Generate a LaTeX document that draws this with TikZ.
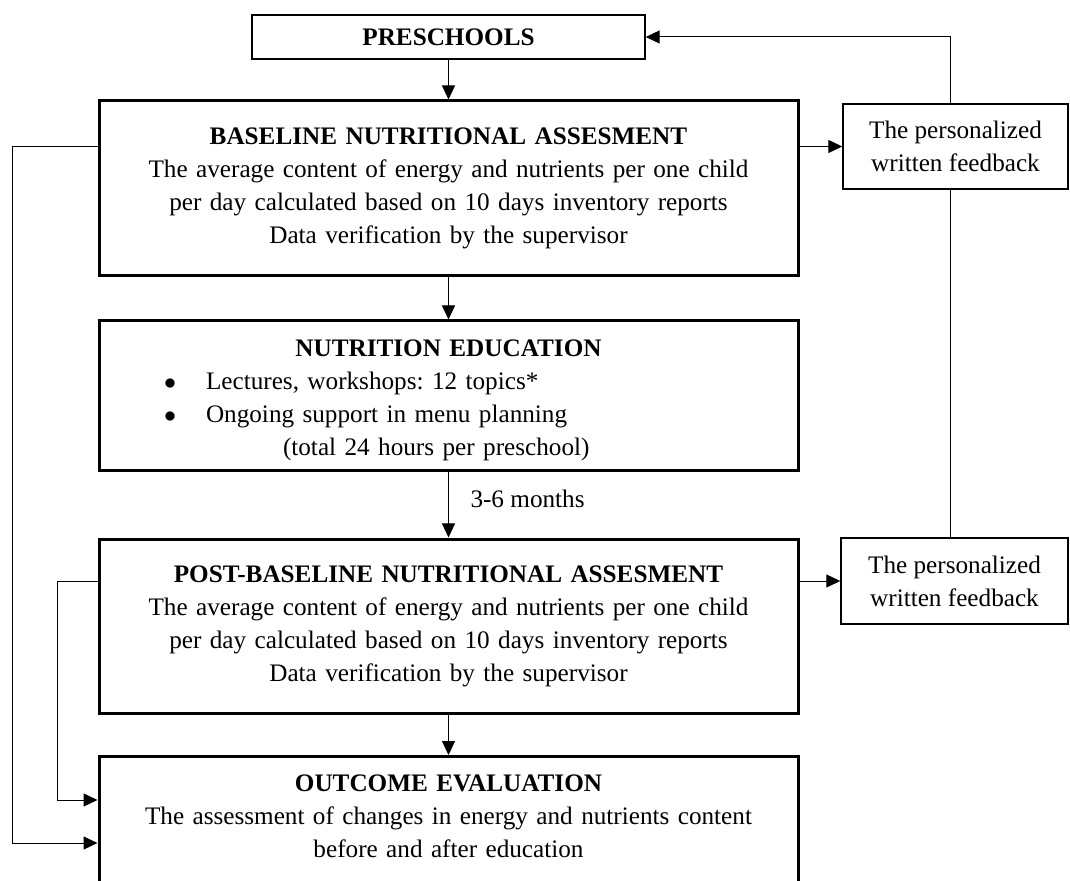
\documentclass[tikz,border=0pt]{standalone}
\usepackage{fontspec}
\setmainfont{Liberation Serif}
\usetikzlibrary{arrows.meta,positioning}
\frenchspacing

\begin{document}
\begin{tikzpicture}[x=0.5pt, y=-0.5pt, >={Triangle[length=7pt,width=6.5pt]},
  font=\fontsize{12.6}{16.5}\selectfont,
  thin box/.style={draw, line width=0.7pt, inner sep=0pt, align=center},
  thick box/.style={draw, line width=1.5pt, inner sep=0pt, align=center, minimum width=349.5pt},
  link/.style={line width=0.5pt}]
  % The page
  \useasboundingbox (0,0) rectangle (1070,881);
  \clip (0,0) rectangle (1070,881);

  % Preschools
  \node [thin box, minimum width=196.5pt, minimum height=22pt] (pre) at (448.5,37) {\textbf{PRESCHOOLS}};
  % Baseline assessment
  \node [thick box, minimum height=87.5pt, text width=345pt] (base) at (448.5,188.5)
    {\textbf{BASELINE NUTRITIONAL ASSESMENT}\\
     The average content of energy and nutrients per one child\\
     per day calculated based on 10 days inventory reports\\
     Data verification by the supervisor};
  % Nutrition education
  \node [thick box, minimum height=75pt, text width=349.5pt] (edu) at (448.5,396)
    {\rule{0pt}{12.5pt}\textbf{NUTRITION EDUCATION}\\
     \makebox[349.5pt][l]{\hspace*{32.5pt}\makebox[21pt][l]{$\bullet$}Lectures, workshops: 12 topics*}\\
     \makebox[349.5pt][l]{\hspace*{32.5pt}\makebox[21pt][l]{$\bullet$}Ongoing support in menu planning}\\
     \makebox[349.5pt][l]{\hspace*{92pt}(total 24 hours per preschool)}};
  % Post-baseline assessment
  \node [thick box, minimum height=87pt, text width=345pt] (post) at (448.5,626)
    {\textbf{POST-BASELINE NUTRITIONAL ASSESMENT}\\
     The average content of energy and nutrients per one child\\
     per day calculated based on 10 days inventory reports\\
     Data verification by the supervisor};
  % Outcome evaluation (runs off the bottom of the page)
  \node [thick box, anchor=north, inner ysep=9pt, text width=345pt] (out) at (448.5,755)
    {\textbf{OUTCOME EVALUATION}\\
     The assessment of changes in energy and nutrients content\\
     before and after education\rule[-40pt]{0pt}{0pt}};

  % The feedback boxes
  \node [thin box, minimum width=112.5pt, minimum height=42.5pt] (fb1) at (955.5,146.5)
    {The personalized\\ written feedback};
  \node [thin box, minimum width=113.5pt, minimum height=43pt] (fb2) at (954.5,581)
    {The personalized\\ written feedback};

  % The corners of the two loops on the left
  \coordinate (loopa) at (12,843);
  \coordinate (loopb) at (57,800);
  % The line between the feedback boxes
  \coordinate (fbline) at ([xshift=-2.75pt]fb1.south);

  % Main flow
  \draw [link, ->] (pre) -- (base);
  \draw [link, ->] (base) -- (edu);
  \draw [link, ->] (edu) -- (post)
    node [pos=0.4, right, inner sep=0pt, xshift=10.75pt] {3-6 months};
  \draw [link, ->] (post) -- (out);

  % Feedback
  \draw [link, ->] (fb1.west -| base.east) -- (fb1.west);
  \draw [link, ->] (fb2.west -| post.east) -- (fb2.west);
  \draw [link, ->] ([xshift=-2.75pt]fb1.north) |- (pre.east);
  \draw [link] (fbline) -- (fbline |- fb2.north);

  % Loops to the outcome evaluation
  \draw [link, ->] (base.west |- fb1.west) -| (loopa) -- (loopa -| out.west);
  \draw [link, ->] (post.west |- fb2.west) -| (loopb) -- (loopb -| out.west);
\end{tikzpicture}
\end{document}
